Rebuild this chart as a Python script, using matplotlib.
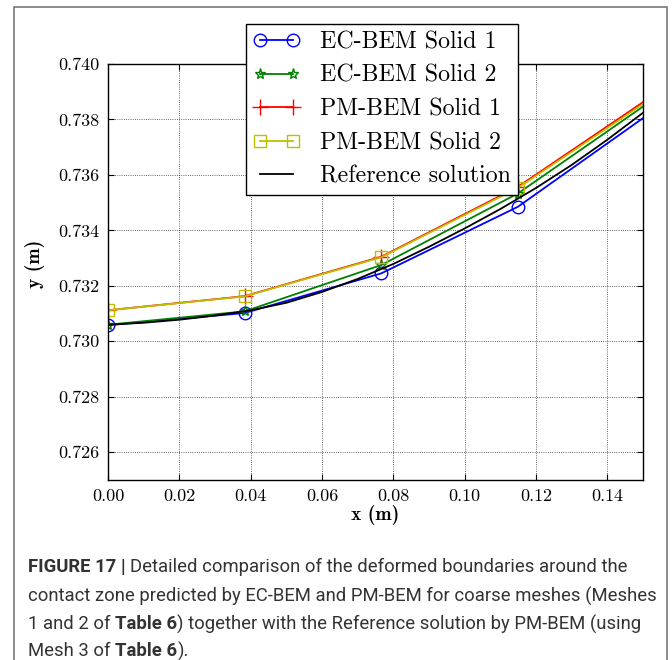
import matplotlib
matplotlib.use("Agg")
import matplotlib.pyplot as plt
from matplotlib.ticker import FormatStrFormatter, MultipleLocator
from matplotlib.patches import Rectangle

# ---------------- data ----------------
x_nodes = [0.0, 0.0383, 0.0766, 0.1149, 0.1532]
ec_solid1 = [0.73058, 0.73102, 0.73245, 0.73485, 0.73834]
ec_solid2 = [0.73060, 0.73108, 0.73275, 0.73533, 0.73875]
pm_solid1 = [0.73112, 0.73163, 0.73305, 0.73557, 0.73890]
pm_solid2 = [0.73112, 0.73162, 0.73303, 0.73553, 0.73883]

x_ref = [0.00, 0.01, 0.02, 0.03, 0.04, 0.05, 0.06, 0.07, 0.08,
         0.09, 0.10, 0.11, 0.12, 0.13, 0.14, 0.15, 0.16]
y_ref = [0.73060, 0.73067, 0.73078, 0.73093, 0.73112, 0.73139, 0.73178,
         0.73225, 0.73279, 0.73341, 0.73407, 0.73477, 0.73553, 0.73636,
         0.73727, 0.73824, 0.73920]

legend_labels = ["EC-BEM Solid 1", "EC-BEM Solid 2", "PM-BEM Solid 1",
                 "PM-BEM Solid 2", "Reference solution"]
x_label = "x (m)"
y_label = "y (m)"

caption_lines = [
    [("FIGURE 17 | ", "bold"), ("Detailed comparison of the deformed boundaries around the", "normal")],
    [("contact zone predicted by EC-BEM and PM-BEM for coarse meshes (Meshes", "normal")],
    [("1 and 2 of ", "normal"), ("Table 6", "bold"), (") together with the Reference solution by PM-BEM (using", "normal")],
    [("Mesh 3 of ", "normal"), ("Table 6", "bold"), (").", "normal")],
]

# ---------------- figure ----------------
plt.rcParams['font.family'] = ['cmr10', 'DejaVu Serif']
plt.rcParams['axes.formatter.use_mathtext'] = True
plt.rcParams['mathtext.fontset'] = 'cm'

W, H = 672, 660
fig = plt.figure(figsize=(W / 100, H / 100), dpi=100)
fig.patch.set_facecolor('white')

# outer frame
fig.patches.append(Rectangle((14 / W, -0.1), (667 - 14) / W, 1.1 - 7 / H,
                             transform=fig.transFigure, fill=False,
                             edgecolor='#6e6e6e', linewidth=1.1))

ax_l, ax_r, ax_t, ax_b = 108, 643, 64, 480
ax = fig.add_axes([ax_l / W, 1 - ax_b / H, (ax_r - ax_l) / W, (ax_b - ax_t) / H])

lw = 1.3
ax.plot(x_nodes, ec_solid1, color='b', lw=lw, marker='o', ms=9, mfc='none', mec='b', mew=1.0,
        label=legend_labels[0])
ax.plot(x_nodes, ec_solid2, color='g', lw=lw, marker='*', ms=8, mfc='none', mec='g', mew=1.0,
        label=legend_labels[1])
ax.plot(x_nodes, pm_solid1, color='r', lw=lw, marker='+', ms=11, mec='r', mew=1.0,
        label=legend_labels[2])
ax.plot(x_nodes, pm_solid2, color='y', lw=lw, marker='s', ms=9, mfc='none', mec='y', mew=1.0,
        label=legend_labels[3])
ax.plot(x_ref, y_ref, color='k', lw=lw, label=legend_labels[4])

ax.set_xlim(0, 0.15)
ax.set_ylim(0.725, 0.740)
ax.xaxis.set_major_locator(MultipleLocator(0.02))
ax.yaxis.set_major_locator(MultipleLocator(0.002))
ax.xaxis.set_major_formatter(FormatStrFormatter('%.2f'))
ax.yaxis.set_major_formatter(FormatStrFormatter('%.3f'))
ax.tick_params(direction='in', length=4, width=0.8, top=True, right=True,
               labelsize=13, pad=6)
for s in ax.spines.values():
    s.set_linewidth(1.0)
ax.grid(True, linestyle=':', color='k', linewidth=0.6, alpha=0.8)

ax.set_xlabel(x_label, fontsize=14, family=['cmb10', 'cmr10'], labelpad=1)
ax.set_ylabel(y_label, fontsize=14, family=['cmb10', 'cmr10'], labelpad=2)
ax.yaxis.set_label_coords(-0.118, 0.52)

leg = ax.legend(loc='upper left',
                bbox_to_anchor=((246 - ax_l) / (ax_r - ax_l), (ax_b - 24) / (ax_b - ax_t)),
                borderaxespad=0, numpoints=2, fontsize=17.2, fancybox=False,
                framealpha=1, edgecolor='k', handlelength=1.95, labelspacing=0.48,
                borderpad=0.3, handletextpad=0.86)
leg.get_frame().set_linewidth(1.0)

# ---------------- caption ----------------
cap_font = ['Roboto', 'Liberation Sans', 'DejaVu Sans']
cap_size = 13.0
fig.canvas.draw()
renderer = fig.canvas.get_renderer()


def adv(txt, weight, size):
    t1 = fig.text(0, 0, txt + "|", fontsize=size, family=cap_font, fontweight=weight)
    t2 = fig.text(0, 0, "|", fontsize=size, family=cap_font, fontweight=weight)
    w = t1.get_window_extent(renderer).width - t2.get_window_extent(renderer).width
    t1.remove(); t2.remove()
    return w


# fit line 2 width to ~627 px
target = 627.0
w2 = sum(adv(s, wt, cap_size) for s, wt in caption_lines[1])
cap_size = cap_size * target / w2

y_lines = [567, 596, 624, 651]
x0 = 28
for line, yy in zip(caption_lines, y_lines):
    x = x0
    for seg, wt in line:
        fig.text(x / W, 1 - yy / H, seg, fontsize=cap_size, family=cap_font,
                 fontweight=wt, va='center', ha='left', color='#333333')
        x += adv(seg, wt, cap_size)

fig.savefig("out.png", dpi=100)
